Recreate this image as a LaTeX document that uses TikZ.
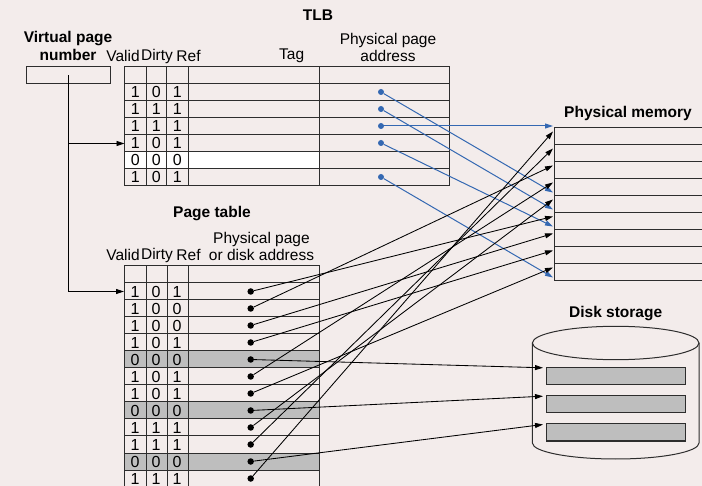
\documentclass[tikz,border=0pt]{standalone}
\usepackage{fontspec}
\setmainfont{Liberation Sans}
\usetikzlibrary{arrows.meta}
\definecolor{paper}{RGB}{243,236,235}
\definecolor{cellgray}{RGB}{190,190,190}
\definecolor{linkblue}{RGB}{52,104,178}
\definecolor{rulegray}{RGB}{45,45,45}

\begin{document}
\begin{tikzpicture}[x=1pt,y=-1pt,
  grid/.style={draw=rulegray, line width=1pt},
  lbl/.style={font=\fontsize{15.5}{17}\selectfont, inner sep=0pt},
  heading/.style={font=\fontsize{15.5}{17.5}\selectfont\bfseries, inner sep=0pt, align=center},
  bitval/.style={font=\fontsize{16}{17}\selectfont, inner sep=0pt},
  pdot/.style={circle, fill=black, inner sep=0pt, minimum size=6.5pt},
  tdot/.style={circle, fill=linkblue, inner sep=0pt, minimum size=6pt},
  link/.style={draw=black, line width=0.85pt, -{Triangle[length=8pt,width=5pt]}},
  tlink/.style={draw=linkblue, line width=1pt, -{Triangle[length=8pt,width=5pt]}},
  diskblk/.style={draw=rulegray, line width=1pt, fill=cellgray, minimum width=138.3pt, minimum height=17pt, inner sep=0pt},
]
\fill[paper] (0,0) rectangle (702,486);
\useasboundingbox (0,0) rectangle (702,486);

% ---------- virtual page number ----------
\node[heading] (vpnlabel) at (68,46) {Virtual page\\number};
\node[draw=rulegray, line width=1pt, minimum width=84pt, minimum height=16.5pt, inner sep=0pt] (vpn) at (68,75.25) {};

% ---------- TLB ----------
\node[heading] (tlbtitle) at (318,15) {TLB};
\node[lbl] (tlbvalid) at (123,56) {Valid};
\node[lbl] (tlbdirty) at (157,56) {Dirty};
\node[lbl] (tlbref) at (188.5,56) {Ref};
\node[lbl] (tlbtag) at (291.7,56) {Tag};
\node[lbl, align=center] (tlbppa) at (388,47.5) {Physical page\\address};

\fill[white] (124.5,151.5) rectangle (319,168.5);
\draw[grid] (124.5,66.5) rectangle (449.5,185.5);
\foreach \k in {1,...,6} \draw[grid] (124.5,66.5+17*\k) -- (449.5,66.5+17*\k);
\foreach \xv in {146,166.5,188,319} \draw[grid] (\xv,66.5) -- (\xv,185.5);

\foreach \bits [count=\r] in {{1,0,1},{1,1,1},{1,1,1},{1,0,1},{0,0,0},{1,0,1}}{
  \foreach \b [count=\c] in \bits
    \node[bitval] (tlb-\r-\c) at (114.3+21*\c,92+17*\r-17) {\b};
}
\foreach \r in {1,2,3,4,6}
  \node[tdot] (tlbd\r) at (381,92+17*\r-17) {};

% ---------- page table ----------
\node[heading] (pttitle) at (212,213.5) {Page table};
\node[lbl] (ptvalid) at (123,255) {Valid};
\node[lbl] (ptdirty) at (157,255) {Dirty};
\node[lbl] (ptref) at (188.5,255) {Ref};
\node[lbl, align=center] (ptppa) at (261.5,246) {Physical page\\or disk address};

\foreach \r in {5,8,11} \fill[cellgray] (124,283+17*\r-17) rectangle (319,300+17*\r-17);
\draw[grid] (124,486) -- (124,266) -- (319,266) -- (319,486);
\foreach \k in {1,...,12} \draw[grid] (124,266+17*\k) -- (319,266+17*\k);
\foreach \xv in {146,167,188} \draw[grid] (\xv,266) -- (\xv,486);

\foreach \bits [count=\r] in {{1,0,1},{1,0,0},{1,0,0},{1,0,1},{0,0,0},{1,0,1},{1,0,1},{0,0,0},{1,1,1},{1,1,1},{0,0,0},{1,1,1}}{
  \foreach \b [count=\c] in \bits
    \node[bitval] (pt-\r-\c) at (114+21*\c,291.5+17*\r-17) {\b};
}
\foreach \r in {1,...,12}
  \node[pdot] (ptd\r) at (250.7,291.5+17*\r-17) {};

% ---------- lookup paths from the virtual page number ----------
\coordinate (tlbin) at (124.5,143.5);
\coordinate (ptin) at (124,291.5);
\draw[link] (vpn.center) -- (vpn.center |- ptin) -- (ptin);
\draw[link] (vpn.center |- tlbin) -- (tlbin);

% ---------- physical memory ----------
\node[heading] (pmtitle) at (628,113) {Physical memory};
\draw[grid] (702,127.3) -- (554.3,127.3) -- (554.3,280.3) -- (702,280.3);
\foreach \k in {1,...,8} \draw[grid] (554.3,127.3+17*\k) -- (702,127.3+17*\k);
\foreach \k in {1,...,9}{
  \coordinate (pm\k) at (553,131.5+17*\k-17);
  \coordinate (pmt\k) at (553,141.5+17*\k);
}
\coordinate (pmt0) at (553,126.3);

% ---------- disk storage ----------
\node[heading] (disktitle) at (615.7,314) {Disk storage};
\draw[grid] (615.7,343) ellipse [x radius=83.3, y radius=16.7];
\draw[grid] (532.4,343) -- (532.4,443) arc[start angle=180, end angle=0, x radius=83.3, y radius=16] -- (699,343);
\node[diskblk] (blk1) at (615.85,375.8) {};
\node[diskblk] (blk2) at (615.85,404.2) {};
\node[diskblk] (blk3) at (615.85,432.5) {};
\coordinate (dk1) at (543,367.8);
\coordinate (dk2) at (543,396.2);
\coordinate (dk3) at (543,424.5);

% ---------- TLB entries to physical pages ----------
\draw[tlink] (tlbd1) -- (pmt3);
\draw[tlink] (tlbd2) -- (pmt4);
\draw[tlink] (tlbd3.center) -- (tlbd3.center -| pmt0);
\draw[tlink] (tlbd4) -- (pmt5);
\draw[tlink] (tlbd6) -- (pmt8);

% ---------- page table entries to physical pages ----------
\draw[link] (ptd1) -- (pm6);
\draw[link] (ptd2) -- (pm3);
\draw[link] (ptd3) -- (pm7);
\draw[link] (ptd4) -- (pm8);
\draw[link] (ptd6) -- (pm4);
\draw[link] (ptd7) -- (pm9);
\draw[link] (ptd9) -- (pm5);
\draw[link] (ptd10) -- (pm2);
\draw[link] (ptd12) -- (pm1);

% ---------- page table entries to disk ----------
\draw[link] (ptd5) -- (dk1);
\draw[link] (ptd8) -- (dk2);
\draw[link] (ptd11) -- (dk3);
\end{tikzpicture}
\end{document}
